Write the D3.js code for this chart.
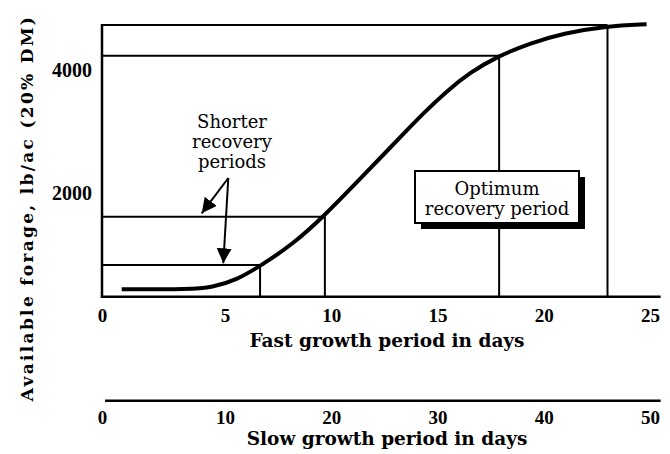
<!DOCTYPE html>
<html>
<head>
<meta charset="utf-8">
<script src="https://cdn.jsdelivr.net/npm/d3@7"></script>
<style>
  html, body { margin: 0; padding: 0; background: #fff; }
  svg { display: block; }
</style>
</head>
<body>
<script>
// ---------- data ----------
const growthDays = [0.8, 3.6, 4.47, 5.55, 6.65, 8.15, 9.71, 11.16, 12.67, 13.55, 14.32, 15.44, 16.53, 17.79, 19.35, 20.91, 22.96, 24.84];
const forageLbAc = [425, 425, 455, 577, 805, 1147, 1636, 2158, 2696, 3014, 3291, 3658, 3959, 4217, 4435, 4598, 4717, 4745];
const recoveryDays   = [6.65, 9.7, 17.9, 23.0];
const recoveryForage = [820, 1609, 4233, 4733];
const fastTicks = [0, 5, 10, 15, 20, 25];
const slowTicks = [0, 10, 20, 30, 40, 50];
const yTicks = [2000, 4000];
const axisFloor = 305;
const yTitle = "Available forage, lb/ac (20% DM)";
const fastTitle = "Fast growth period in days";
const slowTitle = "Slow growth period in days";
const shorterLabel = ["Shorter", "recovery", "periods"];
const optimumLabel = ["Optimum", "recovery period"];

// ---------- layout ----------
const W = 670, H = 454;
const svg = d3.select("body").append("svg").attr("width", W).attr("height", H);
svg.append("rect").attr("width", W).attr("height", H).attr("fill", "#fff");

const x = d3.scaleLinear().domain([0, 5, 25]).range([102, 225, 650]);
const xSlow = d3.scaleLinear().domain([0, 10, 50]).range([102, 225, 650]);
const y = d3.scaleLinear().domain([0, 4000]).range([315.4, 70]);
const slowAxisY = 400.7;

const serif = "'DejaVu Serif', serif";
const tickFont = "'Liberation Serif', 'Times New Roman', serif";

// reference lines (horizontal + vertical)
const refs = recoveryDays.map((d, i) => ({d, v: recoveryForage[i]}));
svg.append("g").selectAll("line").data(refs).join("line")
  .attr("x1", x(0)).attr("x2", r => x(r.d))
  .attr("y1", r => y(r.v)).attr("y2", r => y(r.v))
  .attr("stroke", "#000").attr("stroke-width", 2);
svg.append("g").selectAll("line").data(refs).join("line")
  .attr("x1", r => x(r.d)).attr("x2", r => x(r.d))
  .attr("y1", y(axisFloor)).attr("y2", r => y(r.v))
  .attr("stroke", "#000").attr("stroke-width", 2);

// left border
svg.append("line")
  .attr("x1", x(0)).attr("x2", x(0))
  .attr("y1", y(axisFloor) + 1).attr("y2", y(recoveryForage[3]) - 1)
  .attr("stroke", "#000").attr("stroke-width", 2.5);

// bottom axis line (fast)
svg.append("line")
  .attr("x1", x(0) - 1.2).attr("x2", x(25.5))
  .attr("y1", y(axisFloor)).attr("y2", y(axisFloor))
  .attr("stroke", "#000").attr("stroke-width", 2.5);

// fast axis ticks
const gFast = svg.append("g").attr("transform", `translate(0,${y(axisFloor)})`)
  .call(d3.axisBottom(x).tickValues(fastTicks).tickSize(0).tickPadding(11.5).tickFormat(d3.format("d")));
gFast.select(".domain").remove();
gFast.selectAll("text").attr("font-family", tickFont).attr("font-weight", "bold")
  .attr("font-size", 19).attr("fill", "#000");

// slow axis
svg.append("line")
  .attr("x1", xSlow(0.25)).attr("x2", xSlow(51))
  .attr("y1", slowAxisY).attr("y2", slowAxisY)
  .attr("stroke", "#000").attr("stroke-width", 2.5);
const gSlow = svg.append("g").attr("transform", `translate(0,${slowAxisY})`)
  .call(d3.axisBottom(xSlow).tickValues(slowTicks).tickSize(0).tickPadding(10).tickFormat(d3.format("d")));
gSlow.select(".domain").remove();
gSlow.selectAll("text").attr("font-family", tickFont).attr("font-weight", "bold")
  .attr("font-size", 19).attr("fill", "#000");

// y axis labels
const gY = svg.append("g").attr("transform", `translate(${x(0)},0)`)
  .call(d3.axisLeft(y).tickValues(yTicks).tickSize(0).tickPadding(10).tickFormat(d3.format("d")));
gY.select(".domain").remove();
gY.selectAll("text").attr("font-family", tickFont).attr("font-weight", "bold")
  .attr("font-size", 20).attr("fill", "#000");

// growth curve
const pts = growthDays.map((d, i) => [d, forageLbAc[i]]);
svg.append("path")
  .attr("d", d3.line().x(p => x(p[0])).y(p => y(p[1])).curve(d3.curveBasis)(pts))
  .attr("fill", "none").attr("stroke", "#000").attr("stroke-width", 4);

// axis titles
svg.append("text").attr("x", 387).attr("y", 346.5).attr("text-anchor", "middle")
  .attr("font-family", serif).attr("font-weight", "bold").attr("font-size", 18.5)
  .text(fastTitle);
svg.append("text").attr("x", 387).attr("y", 445).attr("text-anchor", "middle")
  .attr("font-family", serif).attr("font-weight", "bold").attr("font-size", 18.5)
  .text(slowTitle);
svg.append("text").attr("transform", "translate(33,208) rotate(-90)")
  .attr("text-anchor", "middle").attr("font-family", serif).attr("font-weight", "bold")
  .attr("font-size", 17).attr("letter-spacing", 2.3)
  .text(yTitle);

// arrow marker
const defs = svg.append("defs");
defs.append("marker").attr("id", "ah").attr("markerUnits", "userSpaceOnUse")
  .attr("markerWidth", 16).attr("markerHeight", 15).attr("refX", 15).attr("refY", 7.5)
  .attr("orient", "auto")
  .append("path").attr("d", "M0,0 L15,7.5 L0,15 Z").attr("fill", "#000");

// "Shorter recovery periods" annotation
const sText = svg.append("text").attr("text-anchor", "middle")
  .attr("font-family", serif).attr("font-size", 18);
shorterLabel.forEach((t, i) => sText.append("tspan").attr("x", 232).attr("y", 127.7 + i * 20).text(t));
svg.append("line").attr("x1", 228.3).attr("y1", 178).attr("x2", 201.7).attr("y2", 213.3)
  .attr("stroke", "#000").attr("stroke-width", 2).attr("marker-end", "url(#ah)");
svg.append("line").attr("x1", 228.3).attr("y1", 178).attr("x2", 223.3).attr("y2", 263.3)
  .attr("stroke", "#000").attr("stroke-width", 2).attr("marker-end", "url(#ah)");

// "Optimum recovery period" box with shadow
svg.append("rect").attr("x", 421).attr("y", 177).attr("width", 164).attr("height", 52).attr("fill", "#000");
svg.append("rect").attr("x", 415).attr("y", 171).attr("width", 164).attr("height", 52)
  .attr("fill", "#fff").attr("stroke", "#000").attr("stroke-width", 2);
const oText = svg.append("text").attr("text-anchor", "middle")
  .attr("font-family", serif).attr("font-size", 18);
optimumLabel.forEach((t, i) => oText.append("tspan").attr("x", 497).attr("y", 194.5 + i * 20.5).text(t));
</script>
</body>
</html>
